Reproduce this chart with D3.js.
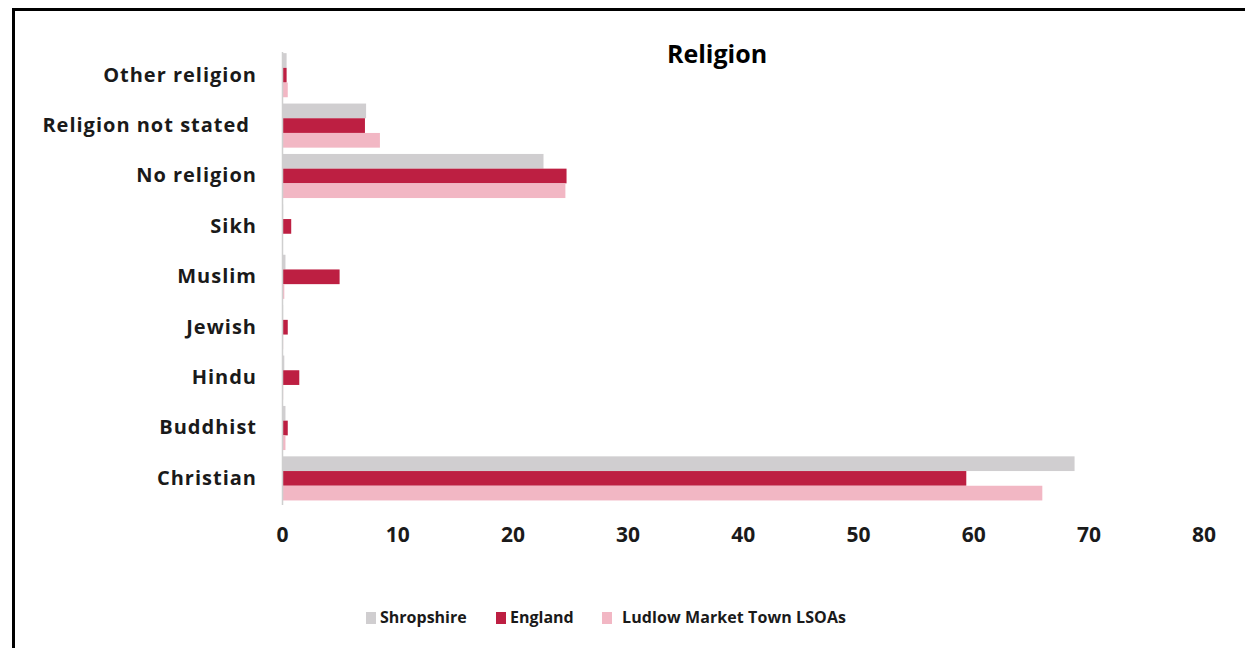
<!DOCTYPE html>
<html>
<head>
<meta charset="utf-8">
<script src="https://cdn.jsdelivr.net/npm/d3@7"></script>
<style>
	body { margin: 0; background: #fff; }
	svg { display: block; font-family: "Open Sans", sans-serif; }
</style>
</head>
<body>
<div id="chart"></div>
<script>
// categories, top to bottom
var categories = ["Other religion", "Religion not stated", "No religion", "Sikh", "Muslim", "Jewish", "Hindu", "Buddhist", "Christian"];
var seriesNames = ["Shropshire", "England", "Ludlow Market Town LSOAs"];
var shropshire = [0.4, 7.3, 22.7, 0.1, 0.3, 0.1, 0.2, 0.3, 68.8];
var england = [0.4, 7.2, 24.7, 0.8, 5.0, 0.5, 1.5, 0.5, 59.4];
var ludlow = [0.5, 8.5, 24.6, 0.05, 0.2, 0.1, 0.1, 0.3, 66.0];
var xTicks = [0, 10, 20, 30, 40, 50, 60, 70, 80];
var colors = ["#d0ced0", "#bd1f42", "#f2b7c4"];

var W = 1245, H = 648;
var svg = d3.select("#chart").append("svg").attr("width", W).attr("height", H);

// frame (only left and top edges show)
svg.append("path")
	.attr("d", "M13.5," + H + "V9.5H" + W)
	.attr("fill", "none")
	.attr("stroke", "#000")
	.attr("stroke-width", 3);

var margin = {top: 50, left: 282};
var g = svg.append("g").attr("transform", "translate(" + margin.left + "," + margin.top + ")");

var x = d3.scaleLinear().domain([0, 80]).range([0, 921.6]);
var y = d3.scaleBand().domain(categories).range([0, 453.6]).paddingInner(0.125).paddingOuter(0.0625);
var ySub = d3.scaleBand().domain(seriesNames).range([0, y.bandwidth()]);

var data = categories.map(function (c, i) {
	return {cat: c, vals: [shropshire[i], england[i], ludlow[i]]};
});

var groups = g.selectAll(".grp").data(data).enter().append("g")
	.attr("transform", function (d) { return "translate(0," + y(d.cat) + ")"; });

groups.selectAll("rect").data(function (d) {
	return d.vals.map(function (v, k) { return {v: v, s: seriesNames[k], k: k}; });
}).enter().append("rect")
	.attr("x", 0)
	.attr("y", function (d) { return ySub(d.s); })
	.attr("height", ySub.bandwidth())
	.attr("width", function (d) { return x(d.v); })
	.attr("fill", function (d) { return colors[d.k]; });

// vertical axis line
g.append("line")
	.attr("x1", 0.5).attr("x2", 0.5)
	.attr("y1", 2).attr("y2", 455)
	.attr("stroke", "#cfcfcf")
	.attr("stroke-width", 1.5);

// category labels
var yAxis = g.append("g")
	.call(d3.axisLeft(y).tickSize(0).tickPadding(25));
yAxis.select(".domain").remove();
yAxis.selectAll("text")
	.attr("font-family", "'Open Sans', sans-serif")
	.attr("font-size", 20)
	.attr("letter-spacing", 1)
	.attr("font-weight", "bold")
	.attr("fill", "#1a1a1a")
	.attr("dx", function (d) { return d === "Religion not stated" ? -7 : 0; });

// bottom axis labels
var xAxis = g.append("g")
	.attr("transform", "translate(0,474)")
	.call(d3.axisBottom(x).tickValues(xTicks).tickSize(0).tickPadding(3));
xAxis.select(".domain").remove();
xAxis.selectAll("text")
	.attr("font-family", "'Open Sans', sans-serif")
	.attr("font-size", 21)
	.attr("font-weight", "bold")
	.attr("fill", "#1a1a1a");

// title
svg.append("text")
	.attr("x", 717).attr("y", 63)
	.attr("text-anchor", "middle")
	.attr("font-size", 25)
	.attr("font-weight", "bold")
	.attr("fill", "#000")
	.text("Religion");

// legend
var legendX = [366, 496, 602];
var legendTextX = [380, 510, 622];
var legend = svg.append("g");
seriesNames.forEach(function (s, k) {
	legend.append("rect")
		.attr("x", legendX[k]).attr("y", 612)
		.attr("width", 10).attr("height", 12)
		.attr("fill", colors[k]);
	legend.append("text")
		.attr("x", legendTextX[k]).attr("y", 623)
		.attr("font-size", 16)
		.attr("font-weight", "bold")
		.attr("fill", "#1a1a1a")
		.attr("textLength", k === 2 ? 224 : null)
		.text(s);
});
</script>
</body>
</html>
